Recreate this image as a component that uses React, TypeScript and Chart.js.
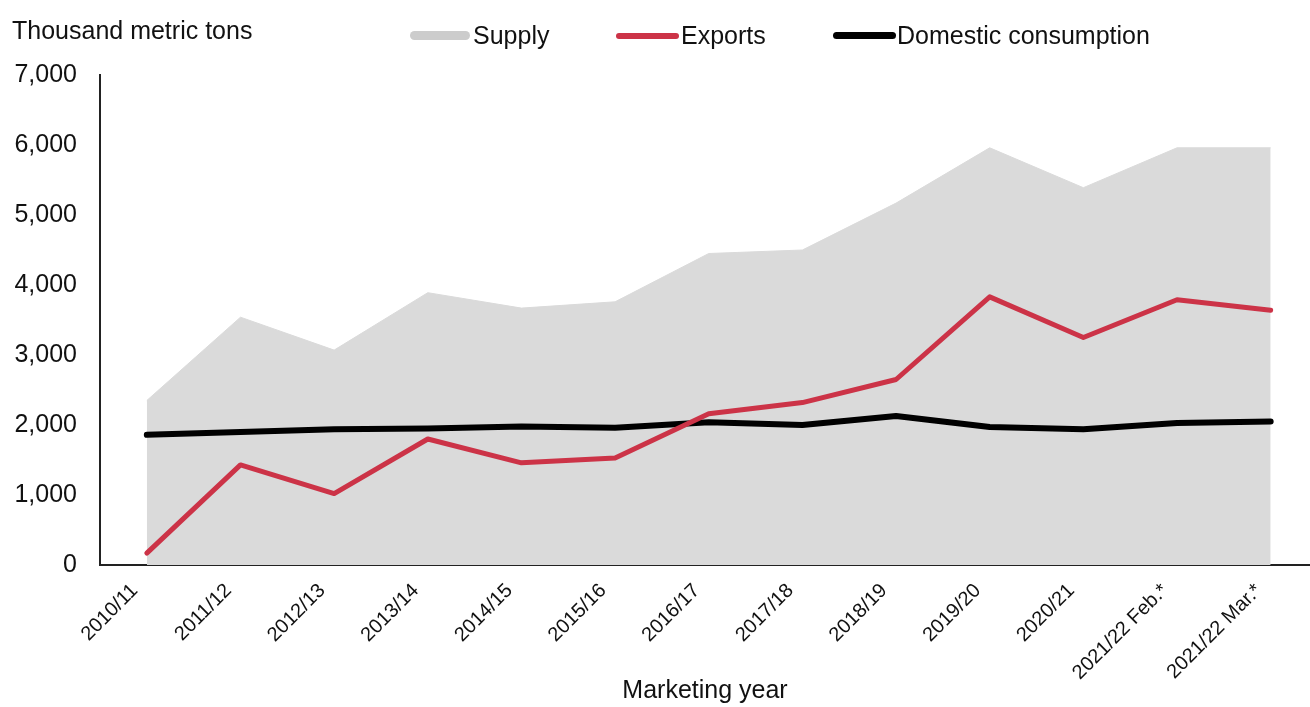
import React, { useEffect, useRef } from 'react';
import { Chart, registerables } from 'chart.js';

Chart.register(...registerables);

const FONT = '"Liberation Sans", Arial, Helvetica, sans-serif';
const TEXT = '#111111';
const RED = '#cc3347';
const GRAY = '#dadada';

const categories = [
  '2010/11', '2011/12', '2012/13', '2013/14', '2014/15', '2015/16', '2016/17',
  '2017/18', '2018/19', '2019/20', '2020/21', '2021/22 Feb.*', '2021/22 Mar.*',
];
const supply = [2350, 3540, 3070, 3890, 3670, 3760, 4450, 4500, 5170, 5960, 5390, 5960, 5960];
const exportsData = [170, 1430, 1020, 1800, 1460, 1530, 2160, 2320, 2650, 3830, 3250, 3790, 3640];
const domestic = [1860, 1900, 1940, 1950, 1980, 1960, 2040, 2000, 2130, 1970, 1940, 2030, 2050];
const yTicks = [0, 1000, 2000, 3000, 4000, 5000, 6000, 7000];

const legendItems = [
  { label: 'Supply', color: '#cccccc', swatchLeft: 410, swatchWidth: 60, swatchHeight: 9, textLeft: 473 },
  { label: 'Exports', color: RED, swatchLeft: 616, swatchWidth: 63, swatchHeight: 6, textLeft: 681 },
  { label: 'Domestic consumption', color: '#000000', swatchLeft: 833, swatchWidth: 63, swatchHeight: 7, textLeft: 897 },
];

const toPoints = (arr: number[]) => arr.map((v, i) => ({ x: i, y: v }));

export default function App() {
  const canvasRef = useRef<HTMLCanvasElement | null>(null);

  useEffect(() => {
    const canvas = canvasRef.current;
    if (!canvas) return;
    const chart = new Chart(canvas, {
      type: 'line',
      data: {
        datasets: [
          {
            label: 'Exports',
            data: toPoints(exportsData),
            borderColor: RED,
            borderWidth: 5,
            pointRadius: 0,
            fill: false,
            tension: 0,
            order: 1,
            borderJoinStyle: 'round',
            borderCapStyle: 'round',
          },
          {
            label: 'Domestic consumption',
            data: toPoints(domestic),
            borderColor: '#000000',
            borderWidth: 6,
            pointRadius: 0,
            fill: false,
            tension: 0,
            order: 2,
            borderJoinStyle: 'round',
            borderCapStyle: 'round',
          },
          {
            label: 'Supply',
            data: toPoints(supply),
            borderColor: GRAY,
            borderWidth: 1,
            backgroundColor: GRAY,
            pointRadius: 0,
            fill: 'origin',
            tension: 0,
            order: 3,
          },
        ],
      } as any,
      options: {
        responsive: false,
        maintainAspectRatio: false,
        animation: false,
        devicePixelRatio: 1,
        layout: { padding: { left: 13, top: 75, right: 0, bottom: 0 } },
        plugins: {
          legend: { display: false },
          tooltip: { enabled: false },
          title: { display: false },
        },
        scales: {
          x: {
            type: 'linear',
            min: -0.5,
            max: 12.42,
            bounds: 'data',
            afterBuildTicks: (s: any) => {
              s.ticks = categories.map((_, i) => ({ value: i }));
            },
            afterFit: (s: any) => {
              s.height = 142;
              s.paddingLeft = 0;
              s.paddingRight = 0;
            },
            ticks: {
              autoSkip: false,
              minRotation: 45,
              maxRotation: 45,
              padding: 14,
              labelOffset: -12,
              color: TEXT,
              font: { family: FONT, size: 20 },
              callback: (v: any) => categories[v] ?? '',
            },
            grid: { display: false, drawTicks: false },
            border: { display: true, color: '#222222', width: 2 },
            title: {
              display: true,
              text: 'Marketing year',
              color: TEXT,
              font: { family: FONT, size: 25 },
              padding: { top: 0, bottom: 1 },
            },
          },
          y: {
            min: 0,
            max: 7000,
            afterBuildTicks: (s: any) => {
              s.ticks = yTicks.map((v) => ({ value: v }));
            },
            afterFit: (s: any) => {
              s.width = 87;
            },
            ticks: {
              padding: 23,
              color: TEXT,
              font: { family: FONT, size: 25 },
              callback: (v: any) => Number(v).toLocaleString('en-US'),
            },
            grid: { display: false, drawTicks: false },
            border: { display: true, color: '#222222', width: 2 },
          },
        },
      } as any,
    });
    return () => chart.destroy();
  }, []);

  return (
    <div
      style={{
        position: 'fixed',
        left: 0,
        top: 0,
        width: 1310,
        height: 707,
        background: '#ffffff',
        fontFamily: FONT,
        color: TEXT,
        overflow: 'hidden',
      }}
    >
      <canvas ref={canvasRef} width={1310} height={707} style={{ position: 'absolute', left: 0, top: 0 }} />
      <div style={{ position: 'absolute', left: 12, top: 18, fontSize: 25, lineHeight: '25px', whiteSpace: 'nowrap' }}>
        Thousand metric tons
      </div>
      {legendItems.map((it) => (
        <React.Fragment key={it.label}>
          <div
            style={{
              position: 'absolute',
              left: it.swatchLeft,
              top: 35.5 - it.swatchHeight / 2,
              width: it.swatchWidth,
              height: it.swatchHeight,
              background: it.color,
              borderRadius: it.swatchHeight / 2,
            }}
          />
          <div
            style={{
              position: 'absolute',
              left: it.textLeft,
              top: 23,
              fontSize: 25,
              lineHeight: '25px',
              whiteSpace: 'nowrap',
            }}
          >
            {it.label}
          </div>
        </React.Fragment>
      ))}
    </div>
  );
}
